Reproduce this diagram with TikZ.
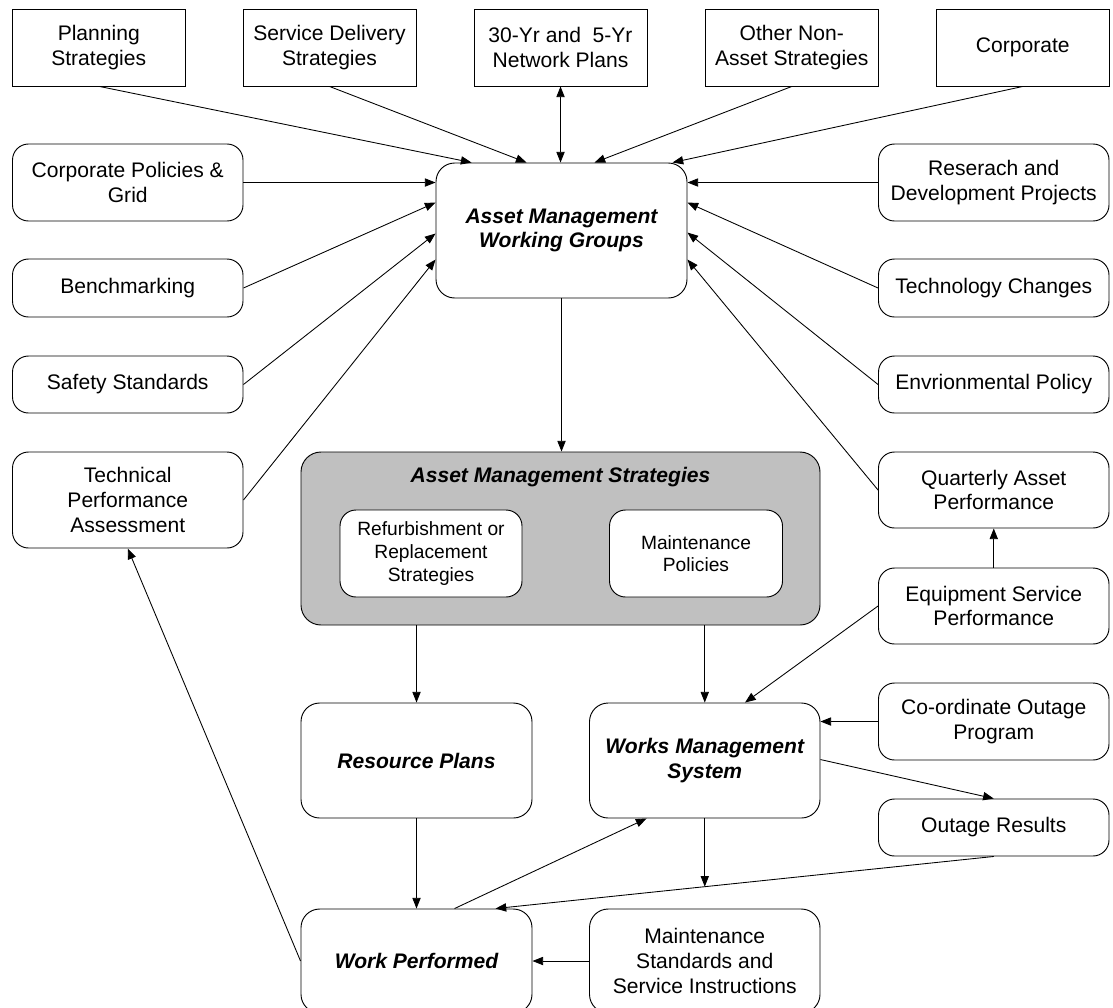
\documentclass[tikz,border=0pt]{standalone}
\usepackage{fontspec}
\setmainfont{Liberation Sans}
\usetikzlibrary{arrows.meta,calc}
\definecolor{amsgray}{HTML}{C0C0C0}
\begin{document}
\begin{tikzpicture}[x=0.75pt,y=-0.75pt,
  >={Triangle[length=8pt,width=6.2pt]},
  every node/.style={font=\fontsize{15.8}{18.6}\selectfont, align=center},
  % place a box by its left, top, right and bottom edges
  span/.style n args={4}{at={({(#1+#3)/2},{(#2+#4)/2})},
    minimum width={(#3-#1)*0.75pt}, minimum height={(#4-#2)*0.75pt}},
  sqbox/.style={draw, line width=0.7pt, inner sep=0pt, fill=white},
  rbox/.style={sqbox, rounded corners=12pt},
  bigbox/.style={sqbox, rounded corners=14pt, font=\fontsize{15.8}{18.6}\selectfont\bfseries\itshape},
  inbox/.style={rbox, font=\fontsize{14.4}{16.9}\selectfont},
  conn/.style={line width=0.65pt, ->},
  conntwo/.style={line width=0.65pt, <->},
]
\useasboundingbox (0,0) rectangle (1113,1007);
\clip (0,0) rectangle (1113,1007);
\fill[white] (0,0) rectangle (1113,1007);

% top row of strategy inputs
\node[sqbox, span={12.5}{9}{185}{86}] (plan) {Planning\\Strategies};
\node[sqbox, span={243}{9}{416}{86}] (serv) {Service Delivery\\Strategies};
\node[sqbox, span={474}{9}{647}{86}] (net) {30-Yr and\ \ 5-Yr\\Network Plans};
\node[sqbox, span={705}{9}{878.5}{86}] (other) {Other Non-\\Asset Strategies};
\node[sqbox, span={936}{9}{1109.5}{86}] (corp) {Corporate};

% left column
\node[rbox, span={12.5}{144}{243}{221}] (cpg) {Corporate Policies \&\\Grid};
\node[rbox, span={12.5}{259}{243}{317}] (bench) {Benchmarking};
\node[rbox, span={12.5}{356}{243}{413}] (safe) {Safety Standards};
\node[rbox, span={12.5}{452}{243}{548}] (tpa) {Technical\\Performance\\Assessment};

% right column
\node[rbox, span={878.5}{144}{1109}{221}] (rnd) {Reserach and\\Development Projects};
\node[rbox, span={878.5}{259}{1109}{317}] (techc) {Technology Changes};
\node[rbox, span={878.5}{356}{1109}{413}] (env) {Envrionmental Policy};
\node[rbox, span={878.5}{452}{1109}{528}] (qap) {Quarterly Asset\\Performance};
\node[rbox, span={878.5}{568}{1109}{644}] (esp) {Equipment Service\\Performance};
\node[rbox, span={878.5}{683}{1109}{760}] (coord) {Co-ordinate Outage\\Program};
\node[rbox, span={878.5}{799}{1109}{856}] (outres) {Outage Results};

% central flow
\node[bigbox, span={436}{163}{687}{298}] (amwg) {Asset Management\\Working Groups};
\node[sqbox, rounded corners=15pt, fill=amsgray, span={301}{452}{820}{625}] (ams) {};
\node[font=\fontsize{15.8}{18.6}\selectfont\bfseries\itshape] (amstitle) at (560.5,477) {Asset Management Strategies};
\node[inbox, span={340}{510}{522}{597}] (refurb) {Refurbishment or\\Replacement\\Strategies};
\node[inbox, span={609.5}{510}{782.5}{597}] (mpol) {Maintenance\\Policies};
\node[bigbox, span={301}{703}{532}{818}] (rp) {Resource Plans};
\node[bigbox, span={589.5}{703}{820}{818}] (wms) {Works Management\\System};
\node[bigbox, span={301}{909}{532}{1013}] (wp) {Work Performed};
\node[rbox, rounded corners=14pt, span={589.5}{909}{820}{1013}] (mssi) {Maintenance\\Standards and\\Service Instructions};

% inputs to the working groups
\draw[conn] ($(plan.south west)+(87.5,0)$) -- ($(amwg.north west)+(36,0)$);
\draw[conn] ($(serv.south west)+(87,0)$) -- ($(amwg.north west)+(91,0)$);
\draw[conntwo] (net.south) -- (net.south |- amwg.north);
\draw[conn] (other.south) -- ($(amwg.north west)+(159,0)$);
\draw[conn] (corp.south) -- ($(amwg.north west)+(237,0)$);
\draw[conn] (cpg.east) -- (cpg.east -| amwg.west);
\draw[conn] (bench.east) -- ($(amwg.north west)+(0,40)$);
\draw[conn] (safe.east) -- ($(amwg.north west)+(0,71)$);
\draw[conn] (tpa.east) -- ($(amwg.north west)+(0,97)$);
\draw[conn] (rnd.west) -- (rnd.west -| amwg.east);
\draw[conn] (techc.west) -- ($(amwg.north east)+(0,40)$);
\draw[conn] (env.west) -- ($(amwg.north east)+(0,70)$);
\draw[conn] (qap.west) -- ($(amwg.north east)+(0,97)$);

% strategies and works
\draw[conn] (amwg.south) -- (amwg.south |- ams.north);
\draw[conn] (rp.north |- ams.south) -- (rp.north);
\draw[conn] (wms.north |- ams.south) -- (wms.north);
\draw[conn] (esp.west) -- ($(wms.north west)+(156,0)$);
\draw[conn] (esp.north) -- (qap.south);
\draw[conn] (coord.west) -- (coord.west -| wms.east);
\draw[conn] ($(wms.north east)+(0,57)$) -- (outres.north);
\coordinate (wpin) at ($(wp.north west)+(195,0)$);
\draw[conn] (outres.south) -- (wpin);
\coordinate (drop) at ($(outres.south)!0.58!(wpin)$);
\draw[conn] (wms.south) -- (wms.south |- drop);
\draw[conn] ($(wp.north west)+(154,0)$) -- ($(wms.south west)+(57.5,0)$);
\draw[conn] (rp.south) -- (rp.south |- wp.north);
\draw[conn] (mssi.west) -- (wp.east);
\draw[conn] (wp.west) -- (tpa.south);
\end{tikzpicture}
\end{document}
